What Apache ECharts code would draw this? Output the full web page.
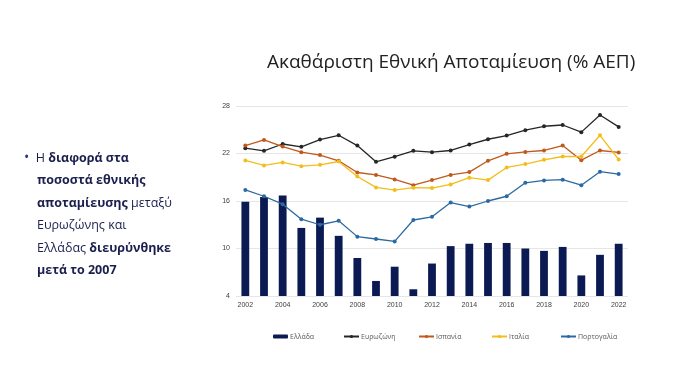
<!DOCTYPE html>
<html>
<head>
<meta charset="utf-8">
<script src="https://cdn.jsdelivr.net/npm/echarts@6/dist/echarts.min.js"></script>
<style>
html,body{margin:0;padding:0;background:#fff;}
#chart{width:700px;height:370px;}
</style>
</head>
<body>
<div id="chart"></div>
<script>
var years = ['2002','2003','2004','2005','2006','2007','2008','2009','2010','2011','2012','2013','2014','2015','2016','2017','2018','2019','2020','2021','2022'];
var greece = [15.9,16.5,16.7,12.6,13.9,11.6,8.8,5.9,7.7,4.85,8.1,10.3,10.6,10.7,10.7,10.0,9.7,10.2,6.6,9.2,10.6];
var eurozone = [22.67,22.34,23.2,22.84,23.76,24.3,23.0,20.95,21.6,22.34,22.17,22.38,23.13,23.8,24.27,24.94,25.44,25.6,24.7,26.87,25.36];
var spain = [23.0,23.72,22.88,22.17,21.8,21.08,19.6,19.3,18.73,18.0,18.64,19.3,19.65,21.08,21.96,22.2,22.38,23.0,21.16,22.38,22.13];
var italy = [21.12,20.49,20.87,20.4,20.57,20.99,19.1,17.72,17.38,17.68,17.64,18.1,18.94,18.64,20.24,20.66,21.2,21.62,21.62,24.3,21.24];
var portugal = [17.4,16.6,15.6,13.7,13.0,13.5,11.5,11.2,10.9,13.6,14.0,15.8,15.3,16.0,16.6,18.3,18.6,18.7,18.0,19.7,19.4];
var seriesNames = ['Ελλάδα','Ευρωζώνη','Ισπανία','Ιταλία','Πορτογαλία'];
var titleText = 'Ακαθάριστη Εθνική Αποταμίευση (% ΑΕΠ)';

var chart = echarts.init(document.getElementById('chart'));
function lineSeries(name, data, color){
  return {name:name, type:'line', data:data, symbol:'circle', symbolSize:4,
    lineStyle:{color:color, width:1.3}, itemStyle:{color:color}};
}
var navy = '#1a1f4d';
var legendLefts = [273, 343, 418, 491, 560];
var legends = seriesNames.map(function(n, i){
  return {data:[n], top:333, left:legendLefts[i], padding:0, itemGap:0, itemWidth:15, itemHeight:4,
    textStyle:{fontSize:7, color:'#595959', fontFamily:'Open Sans', padding:[0,0,0,-3]}};
});
chart.setOption({
  animation:false,
  backgroundColor:'#fff',
  title:{text:titleText, left:262, top:48,
    textStyle:{fontFamily:'Open Sans', fontWeight:'normal', fontSize:19, color:'#222'}},
  graphic:[{
    type:'text', left:24, top:147,
    style:{
      text:'{d|•}  {n|Η }{b|διαφορά στα}\n    {b|ποσοστά εθνικής}\n    {b|αποταμίευσης} {n|μεταξύ}\n    {n|Ευρωζώνης και}\n    {n|Ελλάδας }{b|διευρύνθηκε}\n    {b|μετά το 2007}',
      fill:navy, fontFamily:'Open Sans', fontSize:12.5, lineHeight:22.5,
      rich:{
        d:{fontFamily:'Open Sans', fontSize:14, fill:'#2a3a80', lineHeight:22.5},
        n:{fontFamily:'Open Sans', fontSize:12.5, fill:navy, lineHeight:22.5},
        b:{fontFamily:'Open Sans', fontSize:12.5, fontWeight:'bold', fill:navy, lineHeight:22.5}
      }
    }
  }],
  legend:legends,
  grid:{left:236, right:72, top:106, bottom:74},
  xAxis:{type:'category', data:years, boundaryGap:true,
    axisLine:{show:false}, axisTick:{show:false},
    axisLabel:{fontSize:7, color:'#404040', interval:1, margin:6}},
  yAxis:{type:'value', min:4, max:28, interval:6,
    axisLine:{show:false}, axisTick:{show:false},
    axisLabel:{fontSize:7, color:'#404040', margin:6},
    splitLine:{lineStyle:{color:'#e6e6e6', width:1}}},
  series:[
    {name:seriesNames[0], type:'bar', data:greece, barWidth:7.8, itemStyle:{color:'#0b1a52'}},
    lineSeries(seriesNames[1], eurozone, '#262626'),
    lineSeries(seriesNames[2], spain, '#c0591a'),
    lineSeries(seriesNames[3], italy, '#f2be1a'),
    lineSeries(seriesNames[4], portugal, '#2b6aa0')
  ]
});
</script>
</body>
</html>
